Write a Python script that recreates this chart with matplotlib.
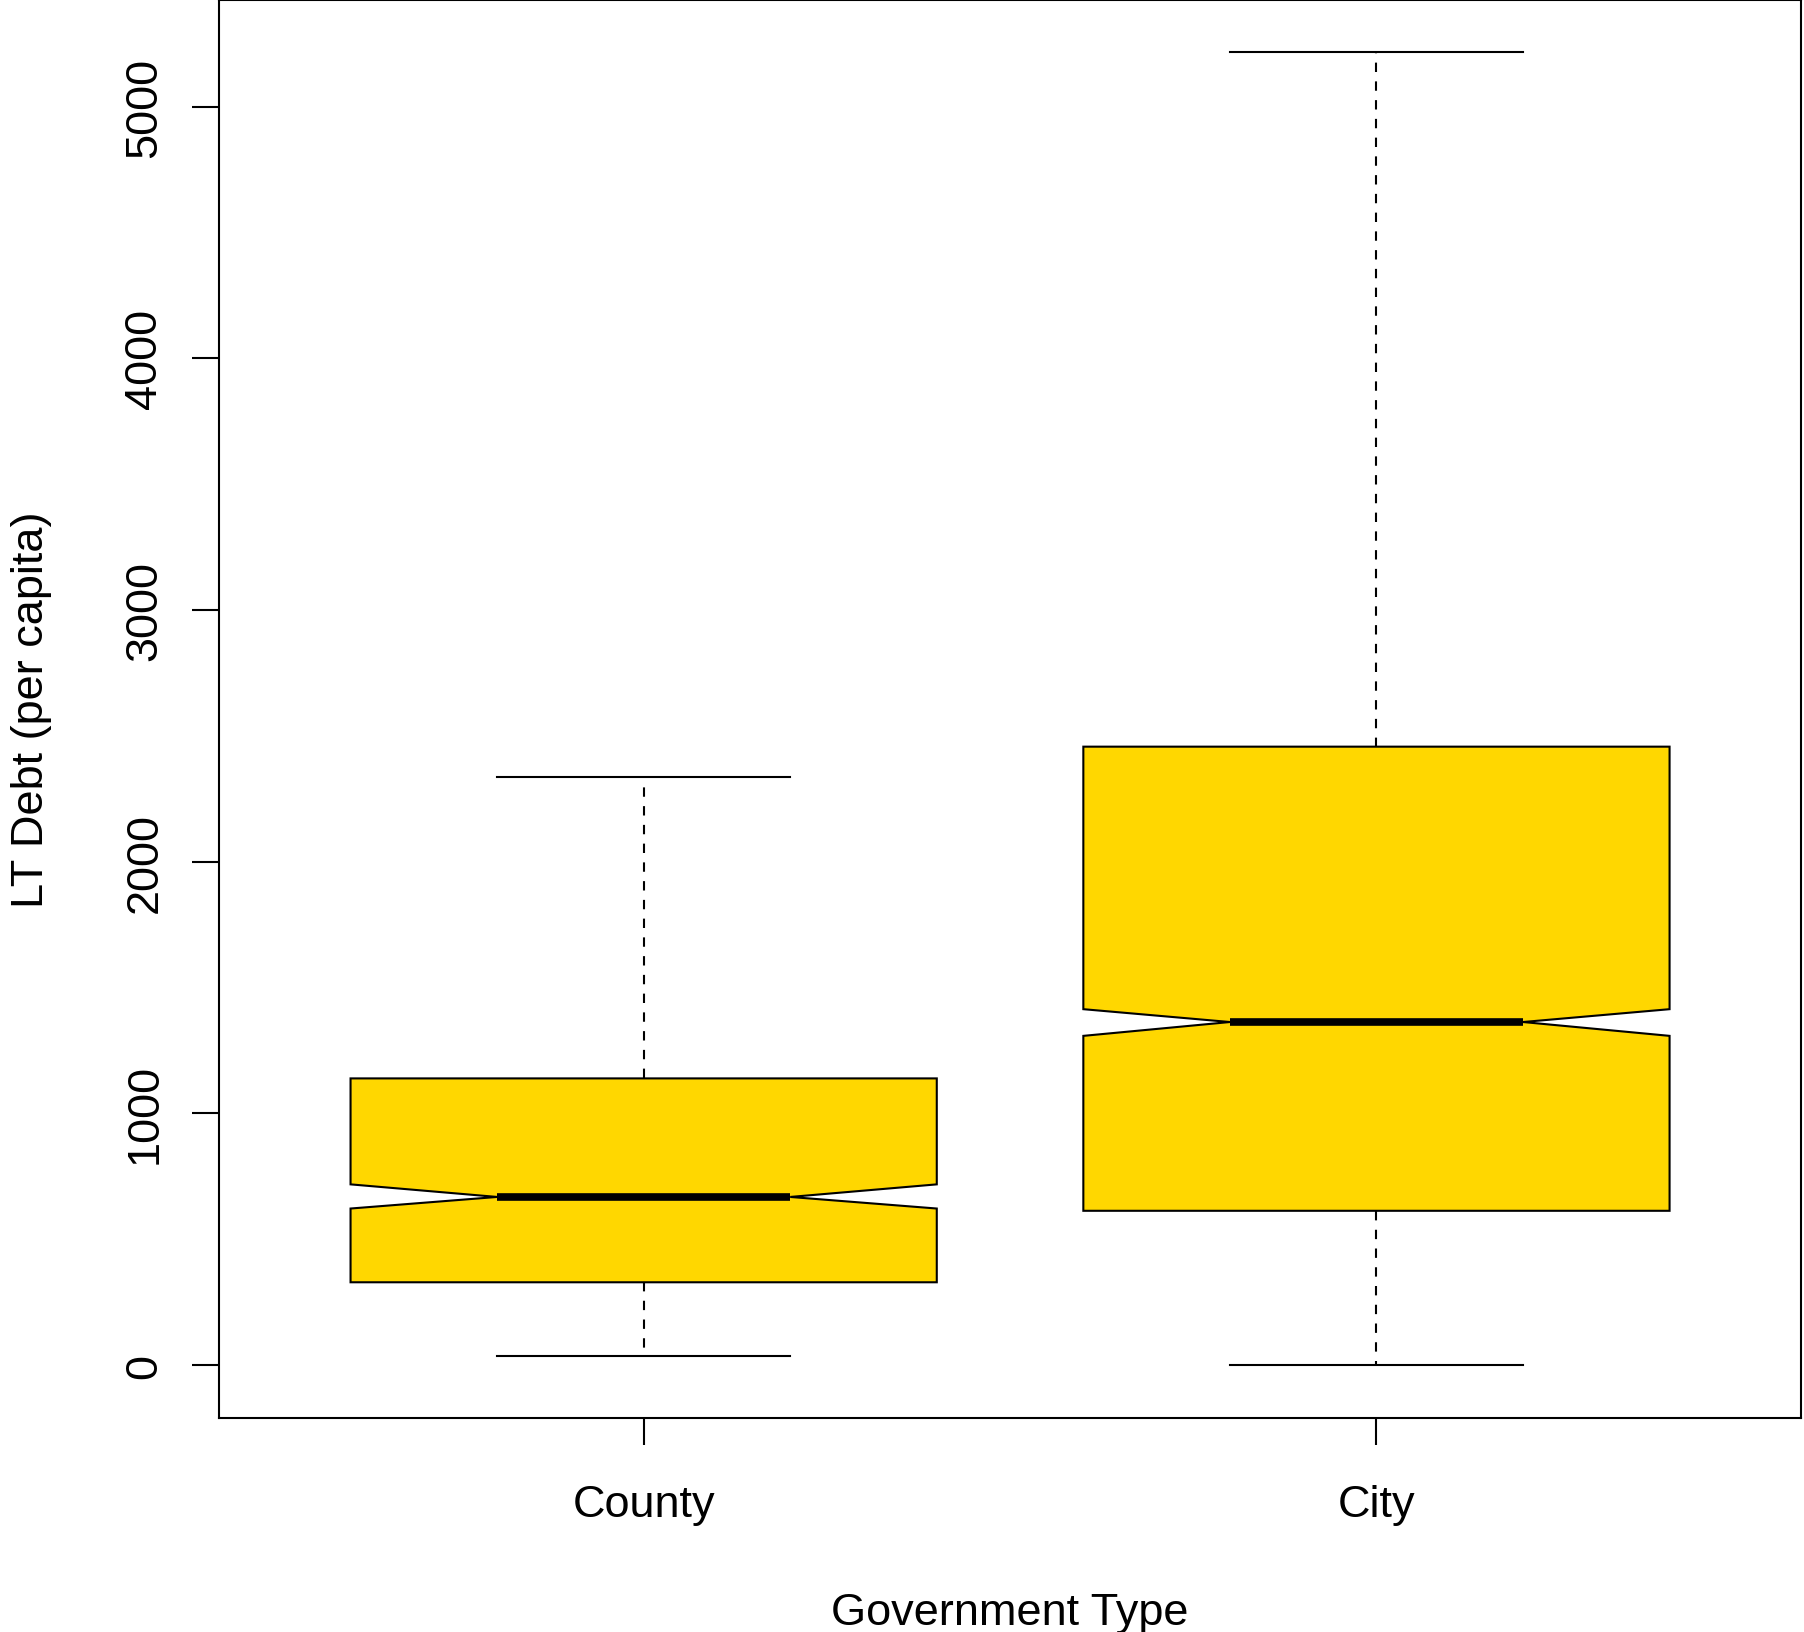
import numpy as np
import matplotlib
matplotlib.use("Agg")
from matplotlib import pyplot as plt

# values (notched boxplot, R style)
groups = ['County', 'City']
whislo = [37, 0]
q1 = [329, 613]
med = [668, 1363]
q3 = [1139, 2457]
whishi = [2338, 5215]
cilo = [622, 1308]
cihi = [718, 1414]

yticks = [0, 1000, 2000, 3000, 4000, 5000]

plt.rcParams['font.family'] = ['Liberation Sans', 'DejaVu Sans']

fig = plt.figure(figsize=(18.04, 16.33), dpi=100)
ax = fig.add_axes([0.1212, 0.1313, 0.8774, 0.8681])

stats = []
for i in range(len(groups)):
    stats.append(dict(label=groups[i], whislo=whislo[i], q1=q1[i], med=med[i],
                      q3=q3[i], whishi=whishi[i], cilo=cilo[i], cihi=cihi[i],
                      fliers=[]))

lw = 1.5
ax.bxp(stats, positions=[1, 2], widths=0.8, shownotches=True, patch_artist=True,
       showfliers=False,
       boxprops=dict(facecolor='#FFD700', edgecolor='black', linewidth=lw),
       whiskerprops=dict(color='black', linewidth=lw, linestyle=(0, (4.5, 4.5))),
       capprops=dict(color='black', linewidth=lw),
       medianprops=dict(color='black', linewidth=5.5, solid_capstyle='butt'))

# R style axis extents: 4% padding around the data range
lo, hi = min(whislo), max(whishi)
pad = 0.04 * (hi - lo)
ax.set_ylim(lo - pad, hi + pad)
ax.set_xlim(0.5 - 0.08, len(groups) + 0.5 + 0.08)

ax.set_yticks(yticks)
ax.set_yticklabels([str(t) for t in yticks], rotation=90, va='center')
ax.set_xticks([1, 2])
ax.set_xticklabels(groups)

ax.tick_params(axis='both', direction='out', length=19.4, width=lw,
               labelsize=32.5, color='black')
ax.tick_params(axis='y', pad=19)
ax.tick_params(axis='x', pad=28.5)
for s in ax.spines.values():
    s.set_linewidth(lw)

ax.set_xlabel('Government Type', fontsize=32.5, labelpad=48)
ax.set_ylabel('LT Debt (per capita)', fontsize=32.5, labelpad=52)

plt.savefig('out.png', dpi=100)
